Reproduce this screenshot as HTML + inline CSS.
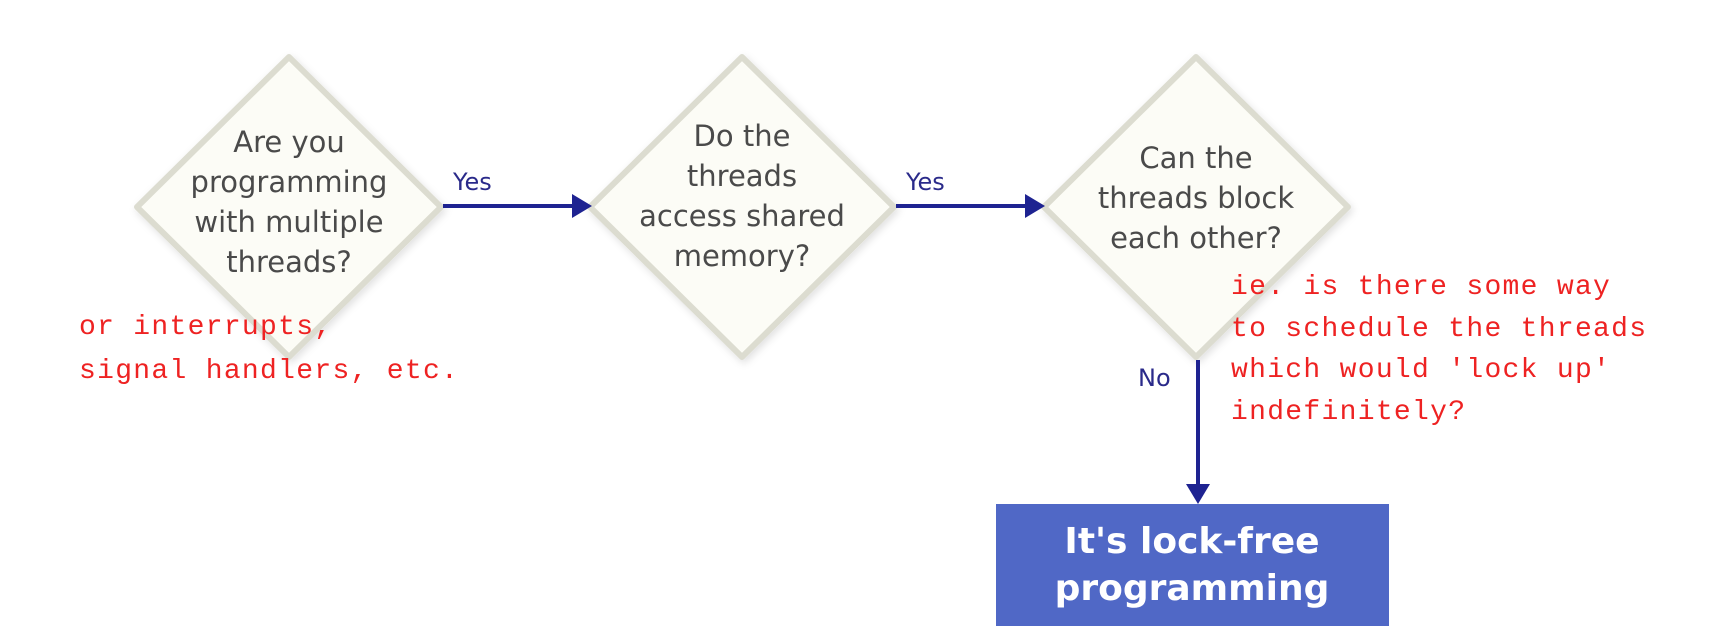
<!DOCTYPE html>
<html><head><style>
body{margin:0;background:#fff;}
svg{display:block}
.d{font-family:"DejaVu Sans","Liberation Sans",sans-serif;font-size:29px;fill:#4a4a4a;text-anchor:middle}
.l{font-family:"DejaVu Sans","Liberation Sans",sans-serif;font-size:24px;fill:#2a2a8a}
.r{font-family:"Liberation Mono",monospace;font-size:28px;fill:#ee2222;letter-spacing:1.3px}
.b{font-family:"DejaVu Sans","Liberation Sans",sans-serif;font-size:36px;font-weight:bold;fill:#fff;text-anchor:middle}
</style></head><body>
<svg width="1712" height="638" viewBox="0 0 1712 638" xmlns="http://www.w3.org/2000/svg">
<defs><filter id="s" x="-20%" y="-20%" width="140%" height="140%"><feDropShadow dx="2" dy="3" stdDeviation="4" flood-color="#000" flood-opacity="0.12"/></filter></defs>
<g fill="#fcfcf6" stroke="#dcdcd0" stroke-width="6" stroke-linejoin="round" filter="url(#s)">
<polygon points="289,57 441,207 289,357 137,207"/>
<polygon points="742,57 894,207 742,357 590,207"/>
<polygon points="1196,57 1348,207 1196,357 1044,207"/>
</g>
<text class="d" x="289" y="152">Are you</text>
<text class="d" x="289" y="192">programming</text>
<text class="d" x="289" y="232">with multiple</text>
<text class="d" x="289" y="272">threads?</text>
<text class="d" x="742" y="146">Do the</text>
<text class="d" x="742" y="186">threads</text>
<text class="d" x="742" y="226">access shared</text>
<text class="d" x="742" y="266">memory?</text>
<text class="d" x="1196" y="168">Can the</text>
<text class="d" x="1196" y="208">threads block</text>
<text class="d" x="1196" y="248">each other?</text>
<g stroke="#1e2391" stroke-width="4" fill="#1e2391">
<line x1="443" y1="206" x2="574" y2="206"/>
<polygon points="592,206 572,194 572,218" stroke="none"/>
<line x1="896" y1="206" x2="1027" y2="206"/>
<polygon points="1045,206 1025,194 1025,218" stroke="none"/>
<line x1="1198" y1="360" x2="1198" y2="486"/>
<polygon points="1198,504 1186,484 1210,484" stroke="none"/>
</g>
<text class="l" x="453" y="190">Yes</text>
<text class="l" x="906" y="190">Yes</text>
<text class="l" x="1138" y="386">No</text>
<rect x="996" y="504" width="393" height="122" fill="#5068c6"/>
<text class="b" x="1192" y="553">It's lock-free</text>
<text class="b" x="1192" y="600">programming</text>
<text class="r" x="79" y="334">or interrupts,</text>
<text class="r" x="79" y="378">signal handlers, etc.</text>
<text class="r" x="1231" y="294">ie. is there some way</text>
<text class="r" x="1231" y="336">to schedule the threads</text>
<text class="r" x="1231" y="377">which would 'lock up'</text>
<text class="r" x="1231" y="419">indefinitely?</text>
</svg>
</body></html>
